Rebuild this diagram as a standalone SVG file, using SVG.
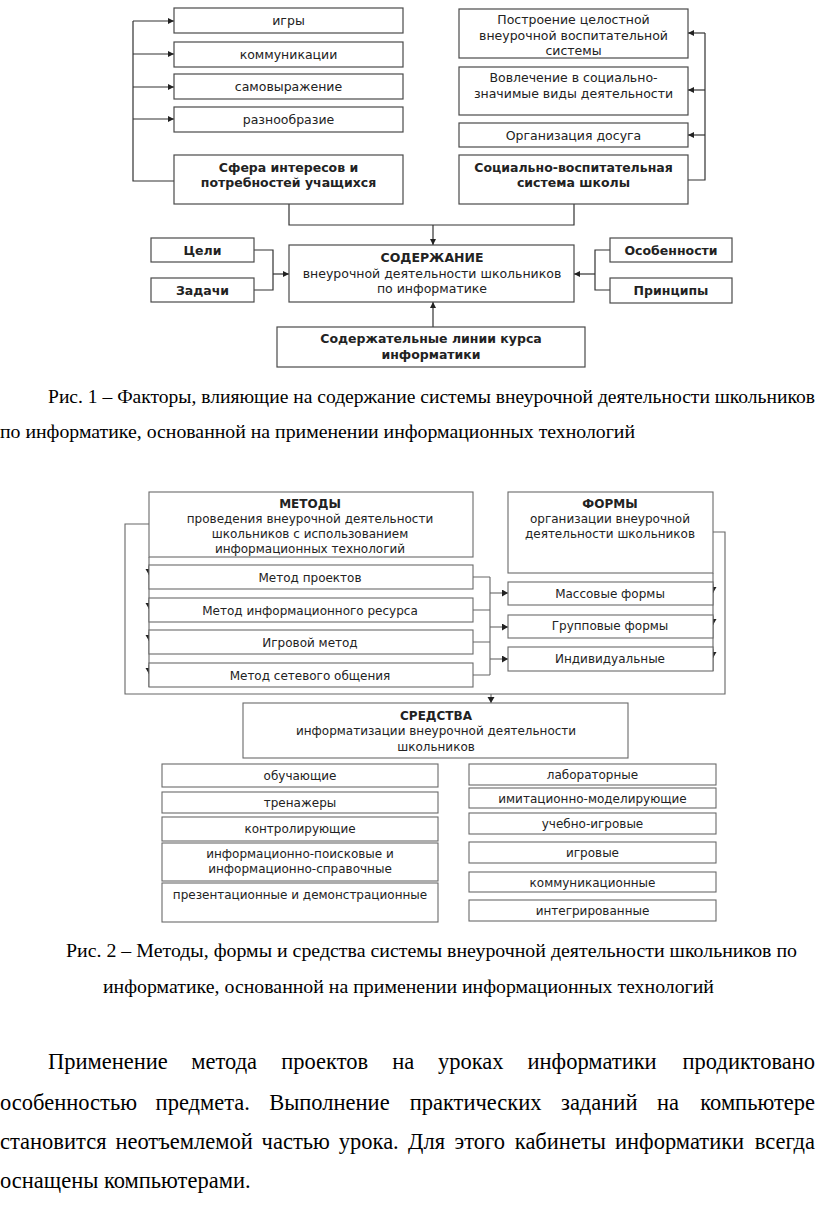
<svg xmlns="http://www.w3.org/2000/svg" width="816" height="1209" viewBox="0 0 816 1209">
<style>
.box{fill:#fff;stroke:#4a4a4a;stroke-width:1.2}
.box2{fill:#fff;stroke:#6a6a6a;stroke-width:1.1}
.t{font-family:"DejaVu Sans",Verdana,sans-serif;font-size:12.5px;fill:#222;text-anchor:middle}
.t2{font-family:"DejaVu Sans",Verdana,sans-serif;font-size:12px;fill:#222;text-anchor:middle}
.b{font-weight:bold}
.ln{fill:none;stroke:#333;stroke-width:1.2}
.ln2{fill:none;stroke:#666;stroke-width:1.1}
.arr{marker-end:url(#ah)}
.arr2{marker-end:url(#ah2)}
.cap{font-family:"Liberation Serif","Times New Roman",serif;font-size:18px;fill:#000}
.para{font-family:"Liberation Serif","Times New Roman",serif;font-size:22.5px;fill:#000}
.end{text-anchor:end}
</style>
<defs>
<marker id="ah" markerWidth="7" markerHeight="7" refX="6" refY="3" orient="auto" markerUnits="userSpaceOnUse"><path d="M0,0 L6,3 L0,6 Z" fill="#222"/></marker>
<marker id="ah2" markerWidth="8" markerHeight="8" refX="6" refY="3.5" orient="auto" markerUnits="userSpaceOnUse"><path d="M0,0 L6,3.5 L0,7 Z" fill="#222"/></marker>
</defs>
<rect width="816" height="1209" fill="#fff"/>

<!-- Diagram 1 connectors -->
<g id="connectors1">
<path class="ln" d="M174 181 H133 V21"/>
<path class="ln arr" d="M133 21 H174"/>
<path class="ln arr" d="M133 54 H174"/>
<path class="ln arr" d="M133 87 H174"/>
<path class="ln arr" d="M133 119 H174"/>
<path class="ln" d="M688 180 H705 V33"/>
<path class="ln arr" d="M705 33 H688"/>
<path class="ln arr" d="M705 90 H688"/>
<path class="ln arr" d="M705 135 H688"/>
<path class="ln" d="M289 204 V225 H574 V204"/>
<path class="ln arr" d="M433 225 V245"/>
<path class="ln" d="M254 250 H273 V290 H254"/>
<path class="ln arr" d="M273 274 H289"/>
<path class="ln" d="M610 250 H595 V290 H610"/>
<path class="ln arr" d="M595 274 H574"/>
<path class="ln arr" d="M433 327 V302"/>
</g>

<g id="n-igry"><rect class="box" x="174" y="8" width="229" height="25"/><text class="t" x="288.5" y="25">игры</text></g>
<g id="n-komm"><rect class="box" x="174" y="42" width="229" height="25"/><text class="t" x="288.5" y="59">коммуникации</text></g>
<g id="n-samov"><rect class="box" x="174" y="74" width="229" height="25"/><text class="t" x="288.5" y="91">самовыражение</text></g>
<g id="n-razn"><rect class="box" x="174" y="107" width="229" height="25"/><text class="t" x="288.5" y="124">разнообразие</text></g>
<g id="n-sfera"><rect class="box" x="174" y="155" width="229" height="49"/><text class="t b" x="288.5" y="172">Сфера интересов и</text><text class="t b" x="288.5" y="187">потребностей учащихся</text></g>

<g id="n-postr"><rect class="box" x="459" y="9" width="229" height="49"/><text class="t" x="573.5" y="24">Построение целостной</text><text class="t" x="573.5" y="39.5">внеурочной воспитательной</text><text class="t" x="573.5" y="55">системы</text></g>
<g id="n-vovl"><rect class="box" x="459" y="67" width="229" height="48"/><text class="t" x="573.5" y="82">Вовлечение в социально-</text><text class="t" x="573.5" y="97.5">значимые виды деятельности</text></g>
<g id="n-dosug"><rect class="box" x="459" y="123" width="229" height="24"/><text class="t" x="573.5" y="139.5">Организация досуга</text></g>
<g id="n-social"><rect class="box" x="459" y="155" width="229" height="49"/><text class="t b" x="573.5" y="172">Социально-воспитательная</text><text class="t b" x="573.5" y="187">система школы</text></g>

<g id="n-celi"><rect class="box" x="151" y="238" width="103" height="24"/><text class="t b" x="202.5" y="254.5">Цели</text></g>
<g id="n-zadachi"><rect class="box" x="151" y="278" width="103" height="24"/><text class="t b" x="202.5" y="294.5">Задачи</text></g>
<g id="n-soderzh"><rect class="box" x="289" y="245" width="285" height="57"/><text class="t b" x="432" y="261.5">СОДЕРЖАНИЕ</text><text class="t" x="432" y="277.5">внеурочной деятельности  школьников</text><text class="t" x="432" y="292.5">по информатике</text></g>
<g id="n-osob"><rect class="box" x="610" y="238" width="122" height="24"/><text class="t b" x="671" y="254.5">Особенности</text></g>
<g id="n-princ"><rect class="box" x="610" y="278" width="122" height="25"/><text class="t b" x="671" y="295">Принципы</text></g>
<g id="n-linii"><rect class="box" x="277" y="327" width="308" height="40"/><text class="t b" x="431" y="343">Содержательные линии курса</text><text class="t b" x="431" y="358.5">информатики</text></g>

<g id="caption1">
<text class="cap" x="48" y="403" textLength="767" lengthAdjust="spacingAndGlyphs">Рис. 1 – Факторы, влияющие на содержание системы внеурочной деятельности школьников</text>
<text class="cap" x="0" y="438" textLength="635" lengthAdjust="spacingAndGlyphs">по информатике, основанной на применении информационных технологий</text>
</g>

<!-- Diagram 2 connectors -->
<g id="connectors2">
<path class="ln2" d="M149 524 H125 V694 H725 V532 H713"/>
<path class="ln2" d="M149 557 V687"/>
<path class="ln2 arr2" d="M149 566 V575"/>
<path class="ln2 arr2" d="M149 600 V609"/>
<path class="ln2 arr2" d="M149 632 V641"/>
<path class="ln2 arr2" d="M149 665 V674"/>
<path class="ln2" d="M713 573 V671"/>
<path class="ln2 arr2" d="M713 584 V593"/>
<path class="ln2 arr2" d="M713 616 V625"/>
<path class="ln2 arr2" d="M713 649 V658"/>
<path class="ln2" d="M473 577 H490 M473 610 H490 M473 642 H490 M473 675 H490 M490 577 V675"/>
<path class="ln2 arr2" d="M490 593 H508"/>
<path class="ln2 arr2" d="M490 627 H508"/>
<path class="ln2 arr2" d="M490 659 H508"/>
<path class="ln2 arr2" d="M491 694 V703"/>
</g>

<g id="n-metody"><rect class="box2" x="149" y="492" width="324" height="65"/><text class="t2 b" x="310" y="507.5">МЕТОДЫ</text><text class="t2" x="310" y="522.5">проведения внеурочной деятельности</text><text class="t2" x="310" y="537.5">школьников с использованием</text><text class="t2" x="310" y="552.5">информационных технологий</text></g>
<g id="n-m1"><rect class="box2" x="149" y="565" width="324" height="24"/><text class="t2" x="310" y="581.5">Метод проектов</text></g>
<g id="n-m2"><rect class="box2" x="149" y="598" width="324" height="24"/><text class="t2" x="310" y="614.5">Метод информационного ресурса</text></g>
<g id="n-m3"><rect class="box2" x="149" y="630" width="324" height="24"/><text class="t2" x="310" y="646.5">Игровой метод</text></g>
<g id="n-m4"><rect class="box2" x="149" y="663" width="324" height="24"/><text class="t2" x="310" y="679.5">Метод сетевого общения</text></g>

<g id="n-formy"><rect class="box2" x="508" y="492" width="205" height="81"/><text class="t2 b" x="610" y="507.5">ФОРМЫ</text><text class="t2" x="610" y="522.5">организации внеурочной</text><text class="t2" x="610" y="537.5">деятельности школьников</text></g>
<g id="n-f1"><rect class="box2" x="508" y="582" width="205" height="23"/><text class="t2" x="610" y="597.5">Массовые формы</text></g>
<g id="n-f2"><rect class="box2" x="508" y="615" width="205" height="23"/><text class="t2" x="610" y="630">Групповые формы</text></g>
<g id="n-f3"><rect class="box2" x="508" y="647" width="205" height="24"/><text class="t2" x="610" y="662.5">Индивидуальные</text></g>

<g id="n-sredstva"><rect class="box2" x="243" y="703" width="385" height="55"/><text class="t2 b" x="436" y="719.5">СРЕДСТВА</text><text class="t2" x="436" y="734.5">информатизации внеурочной деятельности</text><text class="t2" x="436" y="750.5">школьников</text></g>

<g id="n-s1"><rect class="box2" x="162" y="764" width="276" height="23"/><text class="t2" x="300" y="779.5">обучающие</text></g>
<g id="n-s2"><rect class="box2" x="162" y="792" width="276" height="21"/><text class="t2" x="300" y="807">тренажеры</text></g>
<g id="n-s3"><rect class="box2" x="162" y="817" width="276" height="24"/><text class="t2" x="300" y="832.5">контролирующие</text></g>
<g id="n-s4"><rect class="box2" x="162" y="843" width="276" height="38"/><text class="t2" x="300" y="857.5">информационно-поисковые и</text><text class="t2" x="300" y="872.5">информационно-справочные</text></g>
<g id="n-s5"><rect class="box2" x="162" y="883" width="276" height="39"/><text class="t2" x="300" y="899">презентационные и демонстрационные</text></g>

<g id="n-r1"><rect class="box2" x="469" y="764" width="247" height="21"/><text class="t2" x="592.5" y="779">лабораторные</text></g>
<g id="n-r2"><rect class="box2" x="469" y="788" width="247" height="20"/><text class="t2" x="592.5" y="803">имитационно-моделирующие</text></g>
<g id="n-r3"><rect class="box2" x="469" y="813" width="247" height="21"/><text class="t2" x="592.5" y="828">учебно-игровые</text></g>
<g id="n-r4"><rect class="box2" x="469" y="842" width="247" height="21"/><text class="t2" x="592.5" y="857">игровые</text></g>
<g id="n-r5"><rect class="box2" x="469" y="872" width="247" height="20"/><text class="t2" x="592.5" y="886.5">коммуникационные</text></g>
<g id="n-r6"><rect class="box2" x="469" y="900" width="247" height="21"/><text class="t2" x="592.5" y="915">интегрированные</text></g>

<g id="caption2">
<text class="cap" x="66" y="957" textLength="731" lengthAdjust="spacingAndGlyphs">Рис. 2 – Методы, формы и средства системы внеурочной деятельности школьников по</text>
<text class="cap" x="103" y="993" textLength="611" lengthAdjust="spacingAndGlyphs">информатике, основанной на применении информационных технологий</text>
</g>

<g id="paragraph">
<text class="para" y="1069"><tspan x="48">Применение</tspan><tspan x="191.3">метода</tspan><tspan x="281.3">проектов</tspan><tspan x="392.2">на</tspan><tspan x="437.9">уроках</tspan><tspan x="527.5">информатики</tspan></text>
<text class="para end" x="815" y="1069">продиктовано</text>
<text class="para" y="1110"><tspan x="0">особенностью</tspan><tspan x="155.6">предмета.</tspan><tspan x="269.2">Выполнение</tspan><tspan x="409.7">практических</tspan><tspan x="561">заданий</tspan><tspan x="656.9">на</tspan></text>
<text class="para end" x="815" y="1110">компьютере</text>
<text class="para" y="1149"><tspan x="0">становится</tspan><tspan x="115.4">неотъемлемой</tspan><tspan x="261.6">частью</tspan><tspan x="338.8">урока.</tspan><tspan x="408.1">Для</tspan><tspan x="454.6">этого</tspan><tspan x="514.8">кабинеты</tspan><tspan x="615">информатики</tspan></text>
<text class="para end" x="815" y="1149">всегда</text>
<text class="para" x="0" y="1188">оснащены компьютерами.</text>
</g>
</svg>
